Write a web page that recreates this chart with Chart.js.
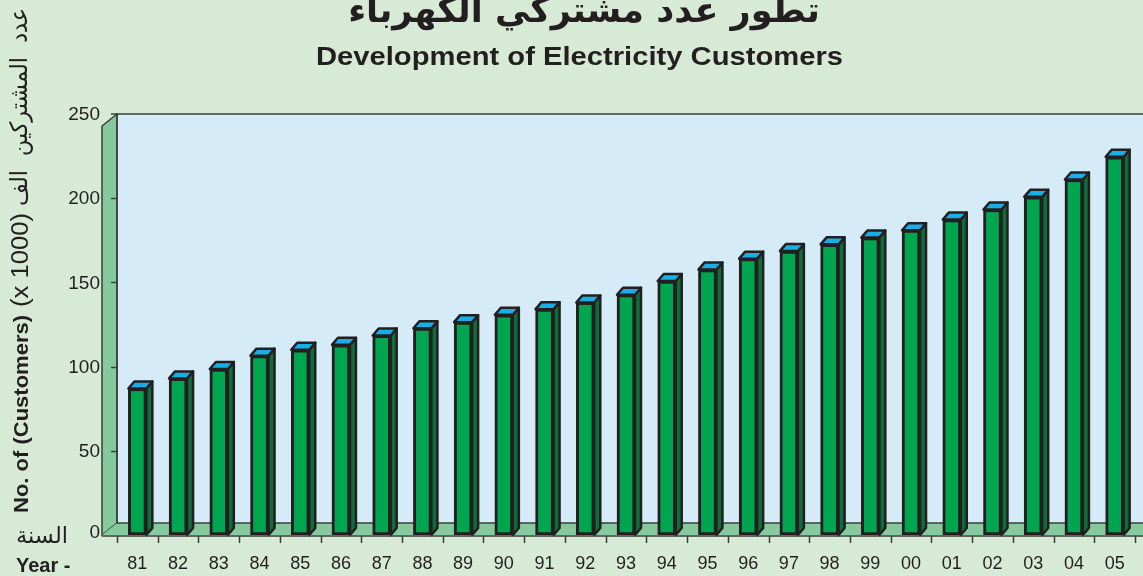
<!DOCTYPE html>
<html>
<head>
<meta charset="utf-8">
<script src="https://cdn.jsdelivr.net/npm/chart.js@4"></script>
<style>
  html, body { margin: 0; padding: 0; background: #d7ead5; }
  #wrap { width: 1143px; height: 576px; }
</style>
</head>
<body>
<div id="wrap"><canvas id="customers-chart" width="1143" height="576"></canvas></div>
<script>
// データ（千件単位）
var years = ['81', '82', '83', '84', '85', '86', '87', '88', '89', '90', '91', '92', '93',
             '94', '95', '96', '97', '98', '99', '00', '01', '02', '03', '04', '05'];
var customers = [87, 93, 98.6, 106.5, 110, 113, 118.5, 122.8, 126.4, 130.8, 134.1, 138.1, 142.7,
                 150.8, 157.6, 164.1, 168.6, 172.6, 176.6, 181, 187.3, 193.3, 200.8, 211.1, 224.6];
var yTicks = [0, 50, 100, 150, 200, 250];

var titleAr = 'تطور عدد مشتركي الكهرباء';
var titleEn = 'Development of Electricity Customers';
var axisEn = 'No. of (Customers)';
var axisUnit = '(x 1000)';
var axisAr = 'عدد  المشتركين  الف';
var yearAr = 'السنة';
var yearEn = 'Year -';

var INK = '#231f20';
var DX = 15, DY = 12;      // 壁の奥行き
var BDX = 6, BDY = 7;      // 棒の奥行き

// 指定幅に収めて描く
function fitText(ctx, text, x, y, width) {
  var w = ctx.measureText(text).width;
  ctx.save();
  ctx.translate(x, y);
  ctx.scale(width / w, 1);
  ctx.fillText(text, 0, 0);
  ctx.restore();
}

// 背景・壁・床
var wallPlugin = {
  id: 'walls',
  beforeDraw: function(chart) {
    var ctx = chart.ctx, a = chart.chartArea, W = chart.width;
    ctx.save();
    ctx.fillStyle = '#d7ead5';
    ctx.fillRect(0, 0, W, chart.height);

    // 奥の壁
    ctx.fillStyle = '#d5ecf8';
    ctx.fillRect(a.left, a.top, W - a.left, a.bottom - DY - a.top);

    // 左の壁
    ctx.fillStyle = '#84ca9c';
    ctx.beginPath();
    ctx.moveTo(a.left - DX, a.top + DY);
    ctx.lineTo(a.left, a.top);
    ctx.lineTo(a.left, a.bottom - DY);
    ctx.lineTo(a.left - DX, a.bottom);
    ctx.closePath();
    ctx.fill();
    ctx.strokeStyle = '#3d3d3d';
    ctx.lineWidth = 1.5;
    ctx.stroke();

    // 床
    ctx.beginPath();
    ctx.moveTo(a.left - DX, a.bottom);
    ctx.lineTo(a.left, a.bottom - DY);
    ctx.lineTo(W, a.bottom - DY);
    ctx.lineTo(W, a.bottom);
    ctx.closePath();
    ctx.fill();

    // 壁の縁
    ctx.beginPath();
    ctx.moveTo(W, a.top);
    ctx.lineTo(a.left, a.top);
    ctx.lineTo(a.left, a.bottom - DY);
    ctx.lineTo(W, a.bottom - DY);
    ctx.stroke();
    ctx.restore();
  },
  afterDatasetsDraw: function(chart) {
    var ctx = chart.ctx, a = chart.chartArea, W = chart.width;
    var xs = chart.scales.x, ys = chart.scales.y;
    ctx.save();

    // 棒の側面と上面
    chart.getDatasetMeta(0).data.forEach(function(bar) {
      var p = bar.getProps(['x', 'y', 'base', 'width'], true);
      var l = p.x - p.width / 2, r = p.x + p.width / 2;
      ctx.lineJoin = 'round';
      ctx.lineWidth = 2.5;
      ctx.strokeStyle = INK;
      ctx.fillStyle = '#0d6e3a';
      ctx.beginPath();
      ctx.moveTo(r, p.y);
      ctx.lineTo(r + BDX, p.y - BDY);
      ctx.lineTo(r + BDX, p.base - BDY);
      ctx.lineTo(r, p.base);
      ctx.closePath();
      ctx.fill();
      ctx.stroke();
      ctx.fillStyle = '#1aaee6';
      ctx.beginPath();
      ctx.moveTo(l, p.y);
      ctx.lineTo(l + BDX, p.y - BDY);
      ctx.lineTo(r + BDX, p.y - BDY);
      ctx.lineTo(r, p.y);
      ctx.closePath();
      ctx.fill();
      ctx.stroke();
    });

    // X軸線と目盛り
    var step = (xs.right - xs.left) / years.length;
    ctx.strokeStyle = '#3d3d3d';
    ctx.lineWidth = 1.5;
    ctx.beginPath();
    ctx.moveTo(a.left - DX, a.bottom + 1);
    ctx.lineTo(W, a.bottom + 1);
    for (var i = 0; i <= years.length; i++) {
      var tx = Math.round(xs.left + i * step) + 0.5;
      ctx.moveTo(tx, a.bottom + 1);
      ctx.lineTo(tx, a.bottom + 8);
    }
    ctx.stroke();

    // Y目盛り（奥の壁の縁）
    ctx.beginPath();
    yTicks.forEach(function(v) {
      if (v === 0 || v === 250) return;
      var ty = Math.round(ys.getPixelForValue(v)) + 0.5;
      ctx.moveTo(a.left - 6, ty);
      ctx.lineTo(a.left, ty);
    });
    ctx.moveTo(a.left - 6, a.top);
    ctx.lineTo(a.left, a.top);
    ctx.stroke();

    ctx.fillStyle = INK;
    ctx.font = '18px "Liberation Sans", Arial, sans-serif';
    ctx.textAlign = 'center';
    ctx.textBaseline = 'middle';
    years.forEach(function(y, i) {
      ctx.fillText(y, xs.getPixelForValue(i), 564);
    });

    ctx.font = '19px "Liberation Sans", Arial, sans-serif';
    ctx.textAlign = 'right';
    yTicks.forEach(function(v) {
      var ty = ys.getPixelForValue(v);
      ctx.fillText(String(v), 100, v === 0 ? ty - 2 : ty + 1);
    });

    // タイトル
    ctx.textAlign = 'center';
    ctx.font = 'bold 35px "DejaVu Sans", sans-serif';
    ctx.fillText(titleAr, 584, 13);
    ctx.textAlign = 'left';
    ctx.textBaseline = 'alphabetic';
    ctx.font = 'bold 25px "Liberation Sans", Arial, sans-serif';
    fitText(ctx, titleEn, 316, 65, 527);

    // 縦軸タイトル
    ctx.save();
    ctx.translate(28, 0);
    ctx.rotate(-Math.PI / 2);
    ctx.font = 'bold 21px "Liberation Sans", Arial, sans-serif';
    fitText(ctx, axisEn, -513, 0, 198);
    ctx.font = '23px "Liberation Sans", Arial, sans-serif';
    fitText(ctx, axisUnit, -307, 0, 94);
    ctx.font = '24px "DejaVu Sans", sans-serif';
    fitText(ctx, axisAr, -206, -1, 198);
    ctx.restore();

    // 年ラベル
    ctx.textBaseline = 'middle';
    ctx.font = '23px "DejaVu Sans", sans-serif';
    fitText(ctx, yearAr, 16, 537, 52);
    ctx.font = 'bold 20px "Liberation Sans", Arial, sans-serif';
    ctx.fillText(yearEn, 16, 566);
    ctx.restore();
  }
};

var ctx = document.getElementById('customers-chart').getContext('2d');
new Chart(ctx, {
  type: 'bar',
  data: {
    labels: years,
    datasets: [{
      data: customers,
      backgroundColor: '#00a54f',
      borderColor: INK,
      borderWidth: 3,
      borderSkipped: false,
      barThickness: 18,
    }],
  },
  options: {
    responsive: false,
    animation: false,
    layout: { padding: { left: 117, right: 8, top: 114, bottom: 41 } },
    plugins: { legend: { display: false }, tooltip: { enabled: false } },
    scales: {
      x: { display: false },
      y: { display: false, min: 0, max: 250 },
    },
  },
  plugins: [wallPlugin],
});
</script>
</body>
</html>
